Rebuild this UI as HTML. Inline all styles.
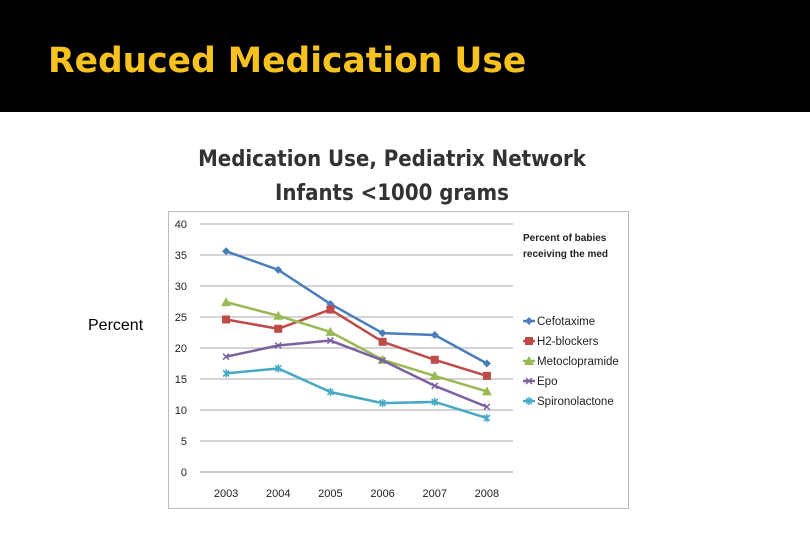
<!DOCTYPE html>
<html><head><meta charset="utf-8"><style>
body{margin:0;width:810px;height:540px;background:#fff;overflow:hidden;font-family:"Liberation Sans",sans-serif;position:relative}
#band{position:absolute;left:0;top:0;width:810px;height:112px;background:#000}
#title{position:absolute;left:48px;top:41px;font-size:34.5px;font-weight:bold;color:#f7c21d;font-family:"DejaVu Sans","Liberation Sans",sans-serif}
#ylab{position:absolute;left:88px;top:317px;font-size:16px;color:#000}
</style></head><body>
<div id="band"></div>
<div id="title">Reduced Medication Use</div>
<div id="ylab">Percent</div>
<svg id="chart" width="810" height="540" style="position:absolute;left:0;top:0"></svg>
<script>
const categories=["2003","2004","2005","2006","2007","2008"];
const seriesNames=["Cefotaxime","H2-blockers","Metoclopramide","Epo","Spironolactone"];
const cefotaxime=[35.6,32.6,27.1,22.4,22.1,17.5];
const h2blockers=[24.6,23.1,26.2,21.0,18.1,15.5];
const metoclopramide=[27.4,25.2,22.6,18.1,15.5,13.0];
const epo=[18.6,20.4,21.2,18.0,13.9,10.5];
const spironolactone=[15.9,16.7,12.9,11.1,11.3,8.7];
const yTicks=[0,5,10,15,20,25,30,35,40];
const colors=["#4a7ebb","#be4b48","#98b954","#7d60a0","#46aac5"];
const allSeries=[cefotaxime,h2blockers,metoclopramide,epo,spironolactone];
const svg=document.getElementById('chart');const NS="http://www.w3.org/2000/svg";
function mk(t,a,p){const e=document.createElementNS(NS,t);for(const k in a)e.setAttribute(k,a[k]);(p||svg).appendChild(e);return e;}
const x0=200,x1=513,yB=472,yT=224;
const X=i=>x0+(x1-x0)*(i+0.5)/categories.length;
const Y=v=>yB-(yB-yT)*v/40;
let f=mk('rect',{x:168.5,y:211.5,width:460,height:297,fill:'#fff',stroke:'#bbb'});


let t1=mk('text',{x:392,y:166,'text-anchor':'middle','font-size':22,'font-weight':'bold',fill:'#333','font-family':'DejaVu Sans Condensed,Liberation Sans,sans-serif'});t1.textContent='Medication Use, Pediatrix Network';


let t2=mk('text',{x:392,y:200,'text-anchor':'middle','font-size':22,'font-weight':'bold',fill:'#333','font-family':'DejaVu Sans Condensed,Liberation Sans,sans-serif'});t2.textContent='Infants <1000 grams';


yTicks.forEach(v=>{
 if(v>0){let g=mk('line',{x1:x0,x2:x1,y1:Y(v),y2:Y(v),stroke:'#bbb','stroke-width':1.2});
 
 }
 let t=mk('text',{x:187,y:Y(v)+4,'text-anchor':'end','font-size':11,fill:'#222'});t.textContent=v;
 
 
});
let ax=mk('line',{x1:x0,x2:x1,y1:yB,y2:yB,stroke:'#999'});


categories.forEach((c,i)=>{
 let t=mk('text',{x:X(i),y:497,'text-anchor':'middle','font-size':11,fill:'#222'});t.textContent=c;
 
 
});
function marker(k,x,y,c){
 if(k===0)return mk('polygon',{points:`${x},${y-4} ${x+4},${y} ${x},${y+4} ${x-4},${y}`,fill:c});
 if(k===1)return mk('rect',{x:x-4,y:y-4,width:8,height:8,fill:c});
 if(k===2)return mk('polygon',{points:`${x},${y-5} ${x+5},${y+4} ${x-5},${y+4}`,fill:c});
 return mk('path',{d:`M${x-3},${y-3}L${x+3},${y+3}M${x-3},${y+3}L${x+3},${y-3}`+(k===4?`M${x},${y-4}V${y+4}`:''),stroke:c,'stroke-width':1.5});
}
allSeries.forEach((s,k)=>{
 let p=mk('polyline',{points:s.map((v,i)=>X(i)+','+Y(v)).join(' '),fill:'none',stroke:colors[k],'stroke-width':2.5});
 
 
 s.forEach((v,i)=>{let m=marker(k,X(i),Y(v),colors[k]);
 
 });
 const ly=321+k*20;
 let ll=mk('line',{x1:523,x2:535,y1:ly,y2:ly,stroke:colors[k],'stroke-width':2.5});
 
 
 let lm=marker(k,529,ly,colors[k]);
 let lt=mk('text',{x:537,y:ly+4,'font-size':11.5,fill:'#222'});lt.textContent=seriesNames[k];
 
 
});
['Percent of babies','receiving the med'].forEach((s,i)=>{
 let t=mk('text',{x:523,y:241+i*16,'font-size':10,'font-weight':'bold',fill:'#222'});t.textContent=s;
 
 
});
</script>
</body></html>
